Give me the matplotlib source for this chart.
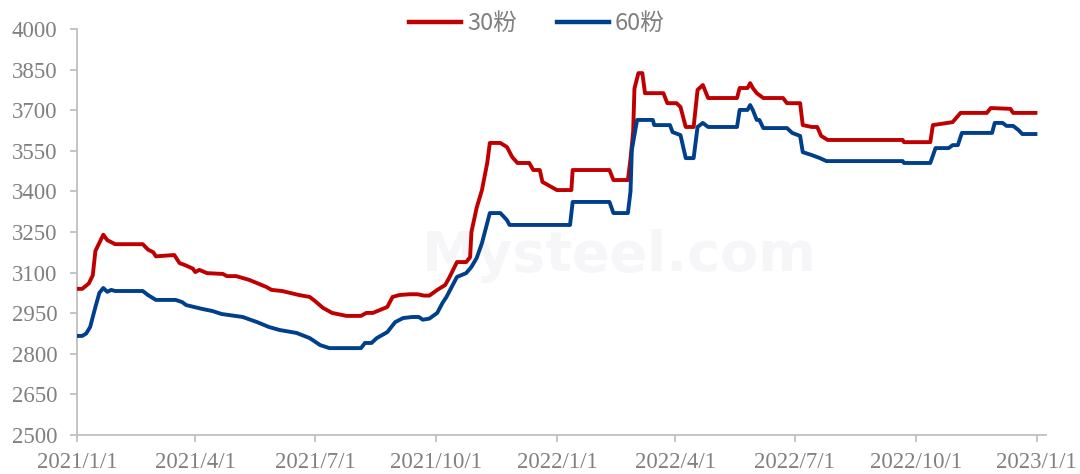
import pandas as pd
import matplotlib.pyplot as plt

# 30粉
dates_30 = ["2021-01-01", "2021-01-05", "2021-01-10", "2021-01-13", "2021-01-15", "2021-01-18",
            "2021-01-21", "2021-01-24", "2021-01-30", "2021-02-20", "2021-02-24", "2021-02-28",
            "2021-03-02", "2021-03-16", "2021-03-20", "2021-03-24", "2021-03-30", "2021-04-01",
            "2021-04-04", "2021-04-10", "2021-04-22", "2021-04-25", "2021-05-02", "2021-05-12",
            "2021-05-25", "2021-05-29", "2021-06-06", "2021-06-19", "2021-06-27", "2021-07-01",
            "2021-07-07", "2021-07-14", "2021-07-25", "2021-08-05", "2021-08-09", "2021-08-14",
            "2021-08-25", "2021-08-29", "2021-09-03", "2021-09-11", "2021-09-17", "2021-09-22",
            "2021-09-26", "2021-10-02", "2021-10-08", "2021-10-11", "2021-10-17", "2021-10-24",
            "2021-10-27", "2021-10-28", "2021-11-01", "2021-11-05", "2021-11-09", "2021-11-11",
            "2021-11-19", "2021-11-24", "2021-11-28", "2021-12-02", "2021-12-11", "2021-12-14",
            "2021-12-19", "2021-12-21", "2022-01-01", "2022-01-12", "2022-01-13", "2022-02-10",
            "2022-02-13", "2022-02-24", "2022-02-26", "2022-02-28", "2022-03-01", "2022-03-04",
            "2022-03-07", "2022-03-09", "2022-03-23", "2022-03-26", "2022-04-02", "2022-04-05",
            "2022-04-09", "2022-04-15", "2022-04-18", "2022-04-22", "2022-04-26", "2022-05-18",
            "2022-05-20", "2022-05-26", "2022-05-28", "2022-05-30", "2022-06-02", "2022-06-07",
            "2022-06-22", "2022-06-25", "2022-07-05", "2022-07-07", "2022-07-14", "2022-07-18",
            "2022-07-21", "2022-07-26", "2022-09-21", "2022-09-22", "2022-10-12", "2022-10-14",
            "2022-10-25", "2022-10-29", "2022-11-04", "2022-11-24", "2022-11-27", "2022-12-12",
            "2022-12-14", "2022-12-31"]
vals_30 = [3040, 3040, 3060, 3090, 3180, 3210,
           3240, 3220, 3205, 3205, 3185, 3175,
           3160, 3165, 3135, 3128, 3115, 3102,
           3110, 3098, 3095, 3087, 3087, 3073,
           3047, 3036, 3032, 3017, 3010, 2995,
           2970, 2951, 2940, 2940, 2951, 2951,
           2973, 3010, 3017, 3020, 3020, 3015,
           3015, 3036, 3054, 3080, 3139, 3139,
           3157, 3250, 3340, 3405, 3505, 3579,
           3579, 3564, 3527, 3505, 3505, 3479,
           3479, 3435, 3405, 3405, 3479, 3479,
           3442, 3442, 3520, 3620, 3780, 3837,
           3837, 3763, 3763, 3726, 3726, 3712,
           3638, 3638, 3775, 3793, 3745, 3745,
           3782, 3782, 3800, 3782, 3763, 3745,
           3745, 3726, 3726, 3645, 3638, 3638,
           3605, 3590, 3590, 3582, 3582, 3645,
           3653, 3656, 3690, 3690, 3708, 3705,
           3690, 3690]

# 60粉
dates_60 = ["2021-01-01", "2021-01-05", "2021-01-08", "2021-01-11", "2021-01-15", "2021-01-18",
            "2021-01-21", "2021-01-24", "2021-01-27", "2021-01-30", "2021-02-20", "2021-02-24",
            "2021-03-02", "2021-03-17", "2021-03-22", "2021-03-25", "2021-03-31", "2021-04-06",
            "2021-04-14", "2021-04-21", "2021-05-07", "2021-05-18", "2021-05-27", "2021-06-04",
            "2021-06-17", "2021-06-27", "2021-07-05", "2021-07-12", "2021-08-05", "2021-08-08",
            "2021-08-13", "2021-08-17", "2021-08-25", "2021-08-31", "2021-09-06", "2021-09-13",
            "2021-09-18", "2021-09-21", "2021-09-26", "2021-10-02", "2021-10-06", "2021-10-09",
            "2021-10-13", "2021-10-17", "2021-10-24", "2021-10-28", "2021-11-01", "2021-11-05",
            "2021-11-07", "2021-11-11", "2021-11-19", "2021-11-24", "2021-11-26", "2022-01-11",
            "2022-01-13", "2022-02-10", "2022-02-13", "2022-02-24", "2022-02-26", "2022-02-27",
            "2022-03-03", "2022-03-15", "2022-03-16", "2022-03-28", "2022-03-30", "2022-04-05",
            "2022-04-09", "2022-04-15", "2022-04-18", "2022-04-22", "2022-04-26", "2022-05-18",
            "2022-05-20", "2022-05-26", "2022-05-28", "2022-05-30", "2022-06-02", "2022-06-04",
            "2022-06-07", "2022-06-25", "2022-06-29", "2022-07-05", "2022-07-07", "2022-07-14",
            "2022-07-20", "2022-07-25", "2022-09-21", "2022-09-22", "2022-10-12", "2022-10-16",
            "2022-10-26", "2022-10-29", "2022-11-02", "2022-11-05", "2022-11-28", "2022-11-30",
            "2022-12-06", "2022-12-09", "2022-12-14", "2022-12-18", "2022-12-21", "2022-12-31"]
vals_60 = [2866, 2866, 2875, 2899, 2973, 3025,
           3043, 3029, 3036, 3032, 3032, 3017,
           2999, 2999, 2991, 2980, 2973, 2966,
           2958, 2947, 2936, 2917, 2899, 2888,
           2877, 2858, 2832, 2821, 2821, 2840,
           2840, 2858, 2880, 2917, 2932, 2936,
           2936, 2926, 2930, 2951, 2988, 3010,
           3047, 3084, 3098, 3121, 3154, 3209,
           3246, 3320, 3320, 3294, 3276, 3276,
           3361, 3361, 3320, 3320, 3400, 3553,
           3664, 3664, 3645, 3645, 3619, 3608,
           3523, 3523, 3638, 3653, 3638, 3638,
           3701, 3701, 3719, 3701, 3664, 3664,
           3634, 3634, 3616, 3605, 3545, 3534,
           3523, 3512, 3512, 3505, 3505, 3560,
           3560, 3571, 3571, 3616, 3616, 3653,
           3653, 3642, 3642, 3627, 3612, 3612]

x_ticks = ["2021-01-01", "2021-04-01", "2021-07-01", "2021-10-01", "2022-01-01",
           "2022-04-01", "2022-07-01", "2022-10-01", "2023-01-01"]
y_ticks = list(range(2500, 4001, 150))

gray = "#808080"

fig = plt.figure(figsize=(10.8, 4.74), dpi=100)
ax = fig.add_axes([0.0713, 0.0823, 0.8972, 0.8565])

# faint watermark
ax.text(0.56, 0.44, "Mysteel.com", transform=ax.transAxes, ha="center", va="center",
        fontsize=40, fontweight="bold", color="#F6F6F8", family="DejaVu Sans", zorder=0)

ax.plot(pd.to_datetime(dates_30), vals_30, color="#C00000", lw=2.8, label="30粉",
        solid_joinstyle="round", zorder=3)
ax.plot(pd.to_datetime(dates_60), vals_60, color="#003F8C", lw=2.8, label="60粉",
        solid_joinstyle="round", zorder=3)

ax.set_ylim(2500, 4000)
ax.set_yticks(y_ticks)
ax.set_xlim(pd.Timestamp("2021-01-01"), pd.Timestamp("2023-01-08"))
xt = pd.to_datetime(x_ticks)
ax.set_xticks(xt)
ax.set_xticklabels([f"{d.year}/{d.month}/{d.day}" for d in xt])

for s in ["top", "right"]:
    ax.spines[s].set_visible(False)
for s in ["left", "bottom"]:
    ax.spines[s].set_color("#BFBFBF")
    ax.spines[s].set_linewidth(1.3)

ax.tick_params(axis="both", colors="#BFBFBF", labelcolor=gray, labelsize=16.5,
               length=5, width=1.3)
ax.tick_params(axis="y", pad=9)
ax.tick_params(axis="x", pad=7)
for lab in ax.get_xticklabels() + ax.get_yticklabels():
    lab.set_family("Liberation Serif")

leg = fig.legend(loc="upper center", bbox_to_anchor=(0.497, 1.02), ncol=2, frameon=False,
                 handlelength=2.2, handletextpad=0.25, columnspacing=1.7,
                 prop={"family": ["Noto Sans CJK SC", "DejaVu Sans"], "size": 17})
for t in leg.get_texts():
    t.set_color(gray)
for h in leg.get_lines():
    h.set_linewidth(3.2)

fig.savefig("out.png", dpi=100)
